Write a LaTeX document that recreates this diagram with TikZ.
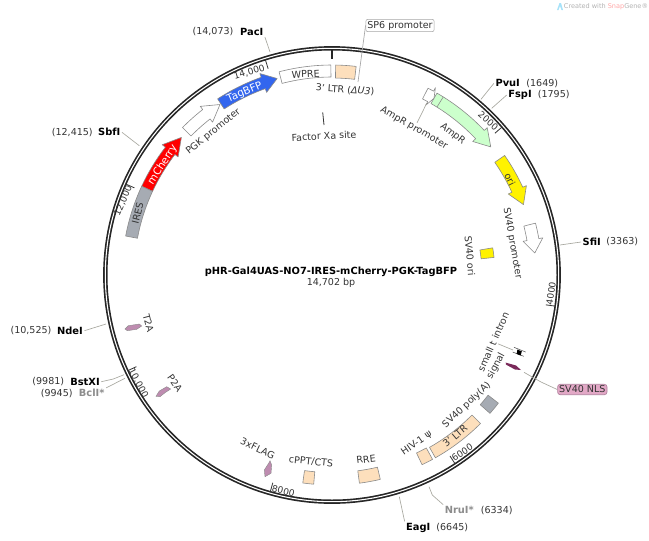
\documentclass[tikz,border=0pt]{standalone}
\usepackage{fontspec}
\setmainfont{DejaVu Sans}

\definecolor{textgray}{HTML}{333333}
\definecolor{edgegray}{HTML}{8A8A8A}
\definecolor{leadgray}{HTML}{A8A8A0}
\definecolor{sitegray}{HTML}{8C8C8C}
\definecolor{ltrorange}{HTML}{FDDFBC}
\definecolor{ampgreen}{HTML}{CCFFCC}
\definecolor{iresgray}{HTML}{A6ABB3}
\definecolor{bfpblue}{HTML}{3366EE}
\definecolor{tagpink}{HTML}{BE8CB0}
\definecolor{nlspurple}{HTML}{7A2A5A}
\definecolor{nlspink}{HTML}{E2A8C6}

\tikzset{
  every node/.style={font=\fontsize{7.15}{9}\selectfont,text=textgray,inner sep=1pt},
  ticklabel/.style={font=\fontsize{6.8}{9}\selectfont},
  site/.style={font=\fontsize{7.4}{9}\selectfont\bfseries,text=black},
  grayed/.style={font=\fontsize{7.4}{9}\selectfont\bfseries,text=sitegray},
  onarrow/.style={font=\fontsize{7.8}{9}\selectfont,text=white},
  leader/.style={draw=leadgray,line width=0.5pt},
  featedge/.style={draw=edgegray,line width=0.45pt,line join=round},
  ticks/.style={draw=black!80,line width=0.6pt}
}

% angles run clockwise from the top of the ring
\newcommand{\ringbox}[5][210]{%
\draw[featedge,fill=#2] ({#3-90}:#1) arc[start angle={#3-90},end angle={#4-90},radius=#1]
  -- ({#4-90}:#5) arc[start angle={#4-90},end angle={#3-90},radius=#5] -- cycle;}
\newcommand{\ringarrow}[4]{%
\draw[featedge,fill=#1] ({#2-90}:210) arc[start angle={#2-90},end angle={#3-90},radius=210]
  -- ({#3-90}:214) -- ({#4-90}:204) -- ({#3-90}:194) -- ({#3-90}:198)
  arc[start angle={#3-90},end angle={#2-90},radius=198] -- cycle;}

\begin{document}
\begin{tikzpicture}[x=0.75pt,y=-0.75pt]
\useasboundingbox (0,0) rectangle (649,540);

\begin{scope}[shift={(332,275)}]
% ring
\draw[line width=3.3pt,black!85] (0,0) circle[radius=226.7];
\draw[line width=0.8pt,white] (0,0) circle[radius=226.7];
\draw[line width=1.6pt,black!85] (-90:225) -- (-90:216);
\foreach \ang in {48.97,97.94,146.9,195.9,244.9,293.8,342.8}
  \draw[ticks] ({\ang-90}:225.5) -- ({\ang-90}:216);

% features
\ringarrow{white}{-45.4}{-38}{-33.3}
\ringarrow{bfpblue}{-33}{-19.7}{-15.6}
\ringarrow{red}{-65}{-52.5}{-47.6}
\ringbox{white}{-14.6}{-0.3}{198}
\ringbox{ltrorange}{1}{6.6}{197}
\ringbox{iresgray}{-79.3}{-65}{198}
\ringarrow{white}{27.2}{28.9}{30}
\ringarrow{ampgreen}{30}{46.5}{51.1}
\draw[featedge] (32-90:198) -- (32-90:210);
\ringarrow{yellow}{55.3}{65.3}{69.8}
\ringarrow{white}{75.7}{80}{83.8}
\ringbox[163]{yellow}{80.4}{83.8}{150}
\ringbox{iresgray}{127.6}{131.2}{197}
\ringbox{ltrorange}{135}{150.5}{198}
\ringbox{ltrorange}{151.4}{154.6}{197}
\ringbox{ltrorange}{166.7}{172.5}{197.5}
\ringbox{ltrorange}{185}{188}{197.5}
\end{scope}

% small features
\draw[textgray,line width=0.6pt] (322.7,112.3) -- (324,125);
\fill[tagpink,draw=edgegray,line width=0.3pt] (125,329) -- (128.3,325.7) -- (139.3,324) -- (141.7,326) -- (136.7,329.3) -- (127.3,330.7) -- cycle;
\fill[tagpink,draw=edgegray,line width=0.3pt] (156,396.3) -- (159.3,391) -- (166.7,386.7) -- (170.7,389) -- (165,392.7) -- (160,396.7) -- cycle;
\fill[tagpink,draw=edgegray,line width=0.3pt] (270,460.7) -- (271.7,465) -- (271,473.3) -- (265,476.7) -- (264.3,470) -- (269,462.7) -- cycle;
\fill[nlspurple] (505.7,362.6) -- (516,365.5) -- (521,370) -- (515,369.5) -- (506,364.6) -- cycle;
\draw[black!70,line width=0.4pt] (514,347.3) -- (525.6,352);
\draw[black!70,line width=0.4pt] (512.6,352) -- (523.8,356.3);
\fill[black] (517.4,349.6) -- (521.8,351.3) -- (520.6,355.5) -- (516.6,353.9) -- cycle;

% tick labels
\node[ticklabel,rotate=-41] (t2000) at (488.3,121) {2000};
\node[ticklabel,rotate=82] (t4000) at (551,293.3) {4000};
\node[ticklabel,rotate=33] (t6000) at (462.3,452.3) {6000};
\node[ticklabel,rotate=-14] (t8000) at (283.3,491) {8000};
\node[ticklabel,rotate=-62] (t10000) at (138.3,383.3) {10,000};
\node[ticklabel,rotate=66] (t12000) at (123.3,200.7) {12,000};
\node[ticklabel,rotate=17] (t14000) at (249.3,72.3) {14,000};

% feature labels
\node[rotate=3] (wpre) at (305.7,74) {WPRE};
\node[onarrow,rotate=23] (tagbfp) at (244.7,92.3) {TagBFP};
\node[onarrow,rotate=57] (mcherry) at (162.7,165) {mCherry};
\node[rotate=76] (ires) at (137.7,213.3) {IRES};
\node[rotate=39] (pgk) at (213.3,131.7) {PGK promoter};
\node[rotate=-4] (ltru3) at (345,90) {3' LTR (\textit{ΔU3})};
\node[rotate=3] (xa) at (324,136) {Factor Xa site};
\node[rotate=-30] (amppro) at (414,128) {AmpR promoter};
\node[rotate=-38] (ampr) at (452.7,134) {AmpR};
\node[rotate=-63] (ori) at (510,179.3) {ori};
\node[rotate=-80] (svpro) at (512.3,243.3) {SV40 promoter};
\node[rotate=-85] (svori) at (470,256) {SV40 ori};
\node[rotate=66] (intron) at (493.3,341.7) {small t intron};
\node[rotate=62] (signal) at (496,366) {signal};
\node[rotate=43] (polya) at (466.7,405) {SV40 poly(A)};
\node[rotate=40] (ltr3) at (455,436) {3' LTR};
\node[rotate=35] (psi) at (416.7,443.3) {HIV-1 ψ};
\node[rotate=7] (rre) at (366,459.3) {RRE};
\node[rotate=-6] (cppt) at (311,461.7) {cPPT/CTS};
\node[rotate=-25] (flag) at (257.7,448.3) {3xFLAG};
\node[rotate=-75] (t2a) at (148.3,323.3) {T2A};
\node[rotate=-55] (p2a) at (175,383.3) {P2A};

% sites
\node[site] (paci) at (251.7,31.7) {PacI};
\node (paci2) at (213,32) {(14,073)};
\node[site] (pvui) at (507.7,83.3) {PvuI};
\node (pvui2) at (542.3,83.3) {(1649)};
\node[site] (fspi) at (520,95) {FspI};
\node (fspi2) at (553.7,95) {(1795)};
\node[site] (sfii) at (591.7,242) {SfiI};
\node (sfii2) at (622.3,242) {(3363)};
\node[grayed] (nrui) at (459.3,510) {NruI*};
\node (nrui2) at (496.7,510) {(6334)};
\node[site] (eagi) at (418.3,527.7) {EagI};
\node (eagi2) at (452.3,527.7) {(6645)};
\node[site] (sbfi) at (109.3,132.3) {SbfI};
\node (sbfi2) at (72.3,132.3) {(12,415)};
\node[site] (ndei) at (70,330.7) {NdeI};
\node (ndei2) at (31,330.7) {(10,525)};
\node[site] (bstxi) at (85,381.7) {BstXI};
\node (bstxi2) at (48.3,381.7) {(9981)};
\node[grayed] (bcli) at (91.7,393.3) {BclI*};
\node (bcli2) at (56.7,393.3) {(9945)};

\node[draw=black!35,rounded corners=1.5pt,fill=white,inner sep=1.2pt] (sp6) at (400,25.5) {SP6 promoter};
\node[draw=nlspurple!60,line width=0.5pt,rounded corners=2pt,fill=nlspink,inner sep=1.2pt] (nls) at (582.3,389.5) {SV40 NLS};

\coordinate (paci1) at (270,52);
\coordinate (pvui1) at (481,99.3);
\coordinate (fspi1) at (491.7,108.3);
\coordinate (sfii1) at (560,245);
\coordinate (nrui1) at (429,486.7);
\coordinate (nruik) at (432.3,495);
\coordinate (eagi1) at (399.3,496.7);
\coordinate (sbfi1) at (139.3,145.7);
\coordinate (ndei1) at (106,324);
\coordinate (bstxi1) at (124,374.7);
\coordinate (bstxik) at (113.3,379);
\coordinate (bcli1) at (125,378.3);
\coordinate (sp61) at (358,82);
\coordinate (amppro1) at (426.7,103.3);
\coordinate (intron1) at (513,350);
\coordinate (nls1) at (524,372.3);
\coordinate (nlsk) at (541,382);

\draw[leader] (paci.south east) -- (paci1);
\draw[leader] (pvui.west) -- (pvui1);
\draw[leader] (fspi.west) -- (fspi1);
\draw[leader] (sfii.west) -- (sfii1);
\draw[leader] (nrui.north west) -- (nruik) -- (nrui1);
\draw[leader] (eagi.north west) -- (eagi1);
\draw[leader] (sbfi.east) -- (sbfi1);
\draw[leader] (ndei.east) -- (ndei1);
\draw[leader] (bstxi.east) -- (bstxik) -- (bstxi1);
\draw[leader] (bcli.north east) -- (bcli1);
\draw[leader,draw=black!35] (sp6.west) -- (sp61);
\draw[leader] (amppro.north) -- (amppro1);
\draw[leader] (intron.south) -- (intron1);
\draw[leader] (nls.west) -- (nlsk) -- (nls1);

% name of the plasmid
\node[site] (title) at (331,271.7) {pHR-Gal4UAS-NO7-IRES-mCherry-PGK-TagBFP};
\node (length) at (331,283) {14,702 bp};

\node[font=\fontsize{4.9}{6}\selectfont,text=black!30] (snapgene) at (606,6.5) {Created with \textcolor{red!35}{Snap}Gene®};
\fill[cyan!35] (557,10) -- (559.5,3) -- (561,3) -- (563,10) -- (561.5,10) -- (560,6) -- (558.5,10) -- cycle;
\end{tikzpicture}
\end{document}
